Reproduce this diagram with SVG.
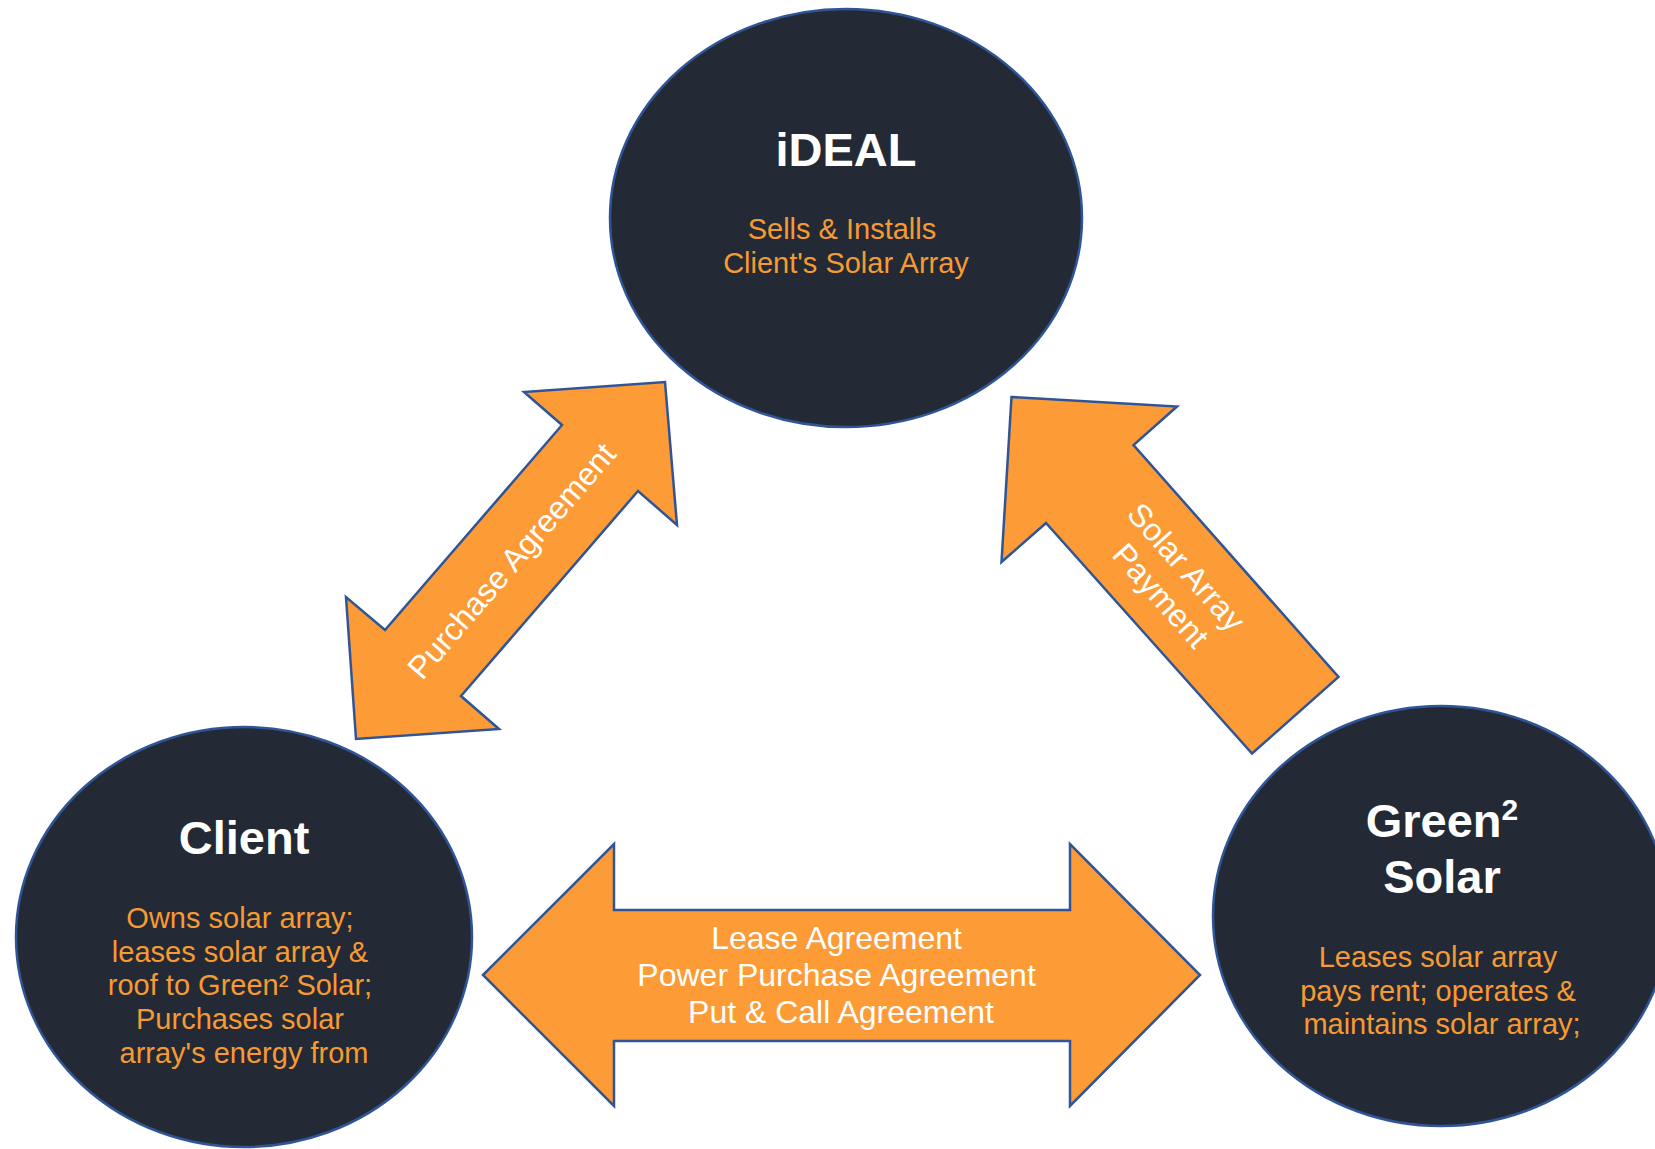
<svg xmlns="http://www.w3.org/2000/svg" width="1655" height="1149" viewBox="0 0 1655 1149">
  <style>
    .node { fill: #232a36; stroke: #2f5597; stroke-width: 2.5; }
    .arrow { fill: #fd9b36; stroke: #2f5597; stroke-width: 2.5; stroke-linejoin: miter; }
    .title { font-family: "Liberation Sans", Arial, sans-serif; font-weight: bold; font-size: 47px; fill: #ffffff; text-anchor: middle; }
    .body { font-family: "Liberation Sans", Arial, sans-serif; font-size: 29px; fill: #f79a32; text-anchor: middle; }
    .label { font-family: "Liberation Sans", Arial, sans-serif; font-size: 32px; fill: #ffffff; text-anchor: middle; }
  </style>
  <rect width="1655" height="1149" fill="#ffffff"/>

  <!-- Agreement and payment arrows -->
  <g id="connectors">
    <g id="purchase-agreement">
      <polygon class="arrow" points="665,382 677,525 638,491 461,696 499,729 356,739 346,597 385,630 562,425 524,392"/>
      <text class="label" transform="translate(511.5,561) rotate(-49.2)" y="11">Purchase Agreement</text>
    </g>
    <g id="solar-array-payment">
      <polygon class="arrow" points="1011.5,397 1177,406.5 1133.5,445 1338.5,677 1252,753.5 1046,523 1001.5,562"/>
      <text class="label" transform="translate(1175,583) rotate(48.5)">
        <tspan x="0" y="-8">Solar Array</tspan>
        <tspan x="0" y="30">Payment</tspan>
      </text>
    </g>
    <g id="lease-agreements">
      <polygon class="arrow" points="483,975 614,844 614,910 1070,910 1070,844 1200,975 1070,1106 1070,1041 614,1041 614,1106"/>
      <text class="label">
        <tspan x="841" y="949">Lease Agreement</tspan>
        <tspan x="841" y="986">Power Purchase Agreement</tspan>
        <tspan x="841" y="1023">Put &amp; Call Agreement</tspan>
      </text>
    </g>
  </g>

  <!-- Parties -->
  <g id="ideal">
    <ellipse class="node" cx="846" cy="218" rx="236" ry="209"/>
    <text class="title" x="846" y="166">iDEAL</text>
    <text class="body">
      <tspan x="846" y="239">Sells &amp; Installs</tspan>
      <tspan x="846" y="273">Client's Solar Array</tspan>
    </text>
  </g>

  <g id="client">
    <ellipse class="node" cx="244" cy="937" rx="228" ry="210"/>
    <text class="title" x="244" y="854">Client</text>
    <text class="body">
      <tspan x="244" y="928">Owns solar array;</tspan>
      <tspan x="244" y="962">leases solar array &amp;</tspan>
      <tspan x="244" y="995">roof to Green² Solar;</tspan>
      <tspan x="244" y="1029">Purchases solar</tspan>
      <tspan x="244" y="1063">array's energy from</tspan>
    </text>
  </g>

  <g id="green-solar">
    <ellipse class="node" cx="1441" cy="916" rx="228" ry="210"/>
    <text class="title" x="1442" y="837">Green<tspan font-size="30" dy="-17">2</tspan></text>
    <text class="title" x="1442" y="893">Solar</text>
    <text class="body">
      <tspan x="1442" y="967">Leases solar array</tspan>
      <tspan x="1442" y="1001">pays rent; operates &amp;</tspan>
      <tspan x="1442" y="1034">maintains solar array;</tspan>
    </text>
  </g>
</svg>
